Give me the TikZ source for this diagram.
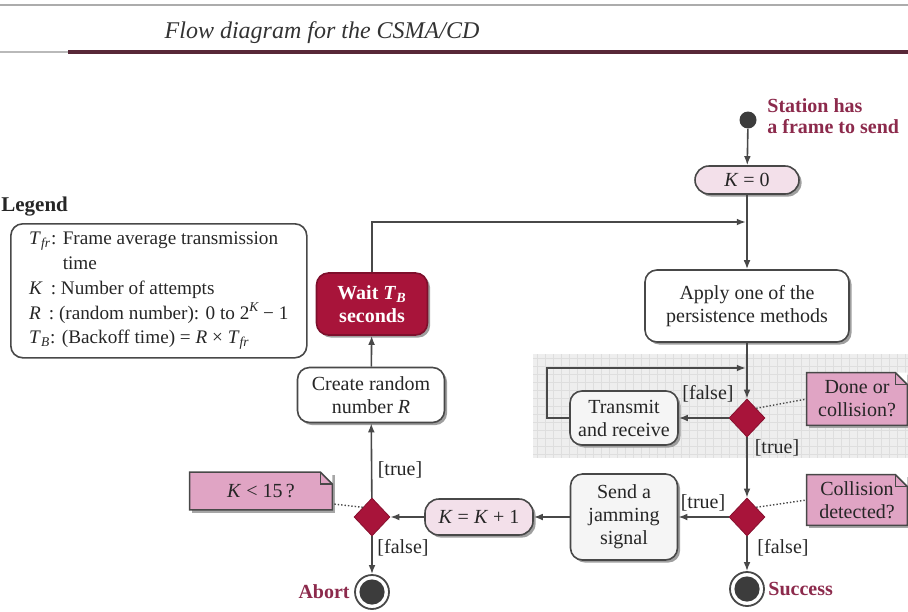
\documentclass[tikz,border=0pt]{standalone}
\usepackage{fontspec}
\setmainfont{Liberation Serif}
\usetikzlibrary{shapes.geometric,arrows.meta,shadows,backgrounds}
\definecolor{crimson}{RGB}{168,20,58}
\definecolor{notepink}{RGB}{224,164,196}
\definecolor{lightpink}{RGB}{243,224,234}
\definecolor{maroontxt}{RGB}{140,42,76}
\definecolor{linecol}{RGB}{72,72,72}
\definecolor{rulecol}{RGB}{88,40,56}
\definecolor{enddark}{RGB}{60,60,60}
\definecolor{gridbg}{RGB}{238,238,238}
\definecolor{gridln}{RGB}{222,222,222}
\begin{document}
\begin{tikzpicture}[x=0.5pt,y=-0.5pt,
  base/.style={font=\fontsize{10}{11.5}\selectfont, align=center, inner sep=1pt, text=black!85},
  procbox/.style={base, draw=linecol, line width=0.8pt, rounded corners=6pt, fill=white,
     drop shadow={shadow xshift=1.3pt, shadow yshift=-1.3pt, fill=gray!75, opacity=1}},
  greybox/.style={procbox, fill=black!4},
  pinkbox/.style={procbox, fill=lightpink, rounded corners=7pt},
  waitbox/.style={base, font=\bfseries\fontsize{10}{11.5}\selectfont, text=white, fill=crimson,
     draw=crimson!75!black, line width=0.8pt, rounded corners=6pt,
     drop shadow={shadow xshift=1.3pt, shadow yshift=-1.3pt, fill=gray!75, opacity=1}},
  decision/.style={diamond, fill=crimson, draw=crimson!80!black, inner sep=0pt,
     minimum width=18pt, minimum height=19pt},
  notebox/.style={base, inner sep=0pt},
  notedraw/.style={draw=linecol, line width=0.8pt},
  lbl/.style={font=\fontsize{10}{11.5}\selectfont, inner sep=1pt, text=black!85},
  arr/.style={draw=linecol, line width=0.8pt, -{Latex[length=4.5pt,width=3.4pt]}},
  dotline/.style={draw=linecol, line width=0.7pt, densely dotted},
  startdot/.style={circle, fill=enddark, minimum size=8.5pt, inner sep=0pt},
  finalnode/.style={circle, draw=linecol, line width=0.9pt, fill=white, minimum size=17pt, inner sep=0pt,
     path picture={\fill[enddark] (path picture bounding box.center) circle (6.3pt);}},
  maroonlbl/.style={font=\bfseries\fontsize{10}{10.5}\selectfont, text=maroontxt, align=left, inner sep=0pt}
]
\useasboundingbox (0,0) rectangle (908,611);

% header rules and title
\draw[gray!65, line width=0.8pt] (0,5) -- (908,5);
\draw[gray!55, line width=0.8pt] (0,52) -- (68,52);
\draw[rulecol, line width=1.6pt] (68,52) -- (908,52);
\node[font=\itshape\fontsize{12}{14}\selectfont, text=black!80, inner sep=0pt] (title) at (322,33) {Flow diagram for the CSMA/CD};

% legend
\node[font=\bfseries\fontsize{10.5}{12}\selectfont, text=black!85, anchor=west, inner sep=0pt] (leghead) at (1,207) {Legend};
\node[draw=linecol, line width=0.8pt, rounded corners=6pt, anchor=north west, minimum width=148pt,
      minimum height=67pt, inner xsep=3pt, inner ysep=2.5pt, align=left,
      font=\fontsize{9.6}{12.4}\selectfont, text=black!85] (legend) at (10,223)
 {\textit{T}\textsubscript{\textit{fr}}: Frame average transmission\\
  \hspace*{1.75em}time\\
  \textit{K}\, : Number of attempts\\
  \textit{R}\, : (random number): 0 to 2\textsuperscript{\textit{K}}\,− 1\\
  \textit{T}\textsubscript{\textit{B}}: (Backoff time) = \textit{R} × \textit{T}\textsubscript{\textit{fr}}\hspace*{14pt}};

% nodes
\node[startdot] (start) at (748,120) {};
\node[maroonlbl, anchor=west] (stlabel) at (767,116) {Station has\\a frame to send};
\node[pinkbox, minimum width=52pt, minimum height=14pt] (k0) at (747,180) {\textit{K} = 0};
\coordinate (merge) at (747,222);
\node[procbox, minimum width=102pt, minimum height=36pt] (apply) at (747,306) {Apply one of the\\persistence methods};
\coordinate (loopin) at (747,368);
\node[decision] (d1) at (747,418) {};
\node[greybox, minimum width=54pt, minimum height=27pt] (tx) at (624,418) {Transmit\\and receive};
\node[notebox, minimum width=50pt, minimum height=26pt] (n1) at (857,399) {Done or\\collision?};
\node[decision] (d2) at (747,517) {};
\node[notebox, minimum width=50pt, minimum height=25pt] (n2) at (857,500) {Collision\\detected?};
\node[greybox, minimum width=53.5pt, minimum height=43pt] (jam) at (624,517) {Send a\\jamming\\signal};
\node[finalnode] (succ) at (747,589) {};
\node[maroonlbl, anchor=west] (succlbl) at (768,589) {Success};
\node[pinkbox, minimum width=54pt, minimum height=18pt] (kk) at (479,517) {\textit{K} = \textit{K} + 1};
\node[decision] (d3) at (372,517) {};
\node[notebox, minimum width=71pt, minimum height=18.5pt] (n3) at (261,491) {\textit{K} < 15\,?};
\node[finalnode] (abort) at (372,592) {};
\node[maroonlbl, anchor=east] (abortlbl) at (350,592) {Abort};
\node[procbox, minimum width=73.5pt, minimum height=27.5pt] (rand) at (371,395) {Create random\\number \textit{R}};
\node[waitbox, minimum width=55.5pt, minimum height=31pt] (wait) at (372,304) {Wait \textit{T}\textsubscript{\textit{B}}\\seconds};

% guard labels
\node[lbl] (f1) at (708,394) {[false]};
\node[lbl] (t1) at (777,448) {[true]};
\node[lbl] (t2) at (703,503) {[true]};
\node[lbl] (f2) at (783,548) {[false]};
\node[lbl] (t3) at (400,470) {[true]};
\node[lbl] (f3) at (403,548) {[false]};

% background: grid and notes
\begin{scope}[on background layer]
  \fill[gridbg] (533,354) rectangle (908,458);
  \foreach \gx in {537,545,...,905} \draw[gridln, line width=0.3pt] (\gx,354) -- (\gx,458);
  \foreach \gy in {358,366,...,456} \draw[gridln, line width=0.3pt] (533,\gy) -- (908,\gy);
  \foreach \n in {n1,n2,n3}{
    \fill[gray!70] ([xshift=1.3pt,yshift=-1.3pt]\n.south west) -- ([xshift=1.3pt,yshift=-1.3pt]\n.north west)
        -- ([xshift=1.3pt,yshift=-1.3pt]\n.north east) -- ([xshift=1.3pt,yshift=-1.3pt]\n.south east) -- cycle;
    \fill[notepink] (\n.south west) -- (\n.north west) -- ([xshift=-6pt]\n.north east)
        -- ([yshift=-6pt]\n.north east) -- (\n.south east) -- cycle;
    \fill[white] ([xshift=-6pt]\n.north east) -- (\n.north east) -- ([yshift=-6pt]\n.north east) -- cycle;
    \draw[notedraw] (\n.south west) -- (\n.north west) -- ([xshift=-6pt]\n.north east)
        -- ([yshift=-6pt]\n.north east) -- (\n.south east) -- cycle;
    \draw[notedraw] ([xshift=-6pt]\n.north east) -- ([xshift=-6pt,yshift=-6pt]\n.north east) -- ([yshift=-6pt]\n.north east);
  }
\end{scope}

% connectors
\draw[arr] (start) -- (k0);
\draw[arr] (k0) -- (apply);
\draw[arr, shorten >=0.6pt] (wait.north) |- (merge);
\draw[arr] (apply) -- (d1);
\draw[arr] (d1.west) -- (tx.east);
\draw[arr, shorten >=0.6pt] (tx.west) -- ++(-22,0) |- (loopin);
\draw[arr] (d1) -- (d2);
\draw[arr] (d2.west) -- (jam.east);
\draw[arr] (d2) -- (succ);
\draw[arr] (jam.west) -- (kk.east);
\draw[arr] (kk.west) -- (d3.east);
\draw[arr] (d3) -- (rand);
\draw[arr] (d3) -- (abort);
\draw[arr] (rand) -- (wait);
\draw[dotline] (d1.north east) -- (n1.west);
\draw[dotline] (d2.north east) -- (n2.west);
\draw[dotline] (d3.north west) -- ([yshift=3pt]n3.south east);
\end{tikzpicture}
\end{document}
